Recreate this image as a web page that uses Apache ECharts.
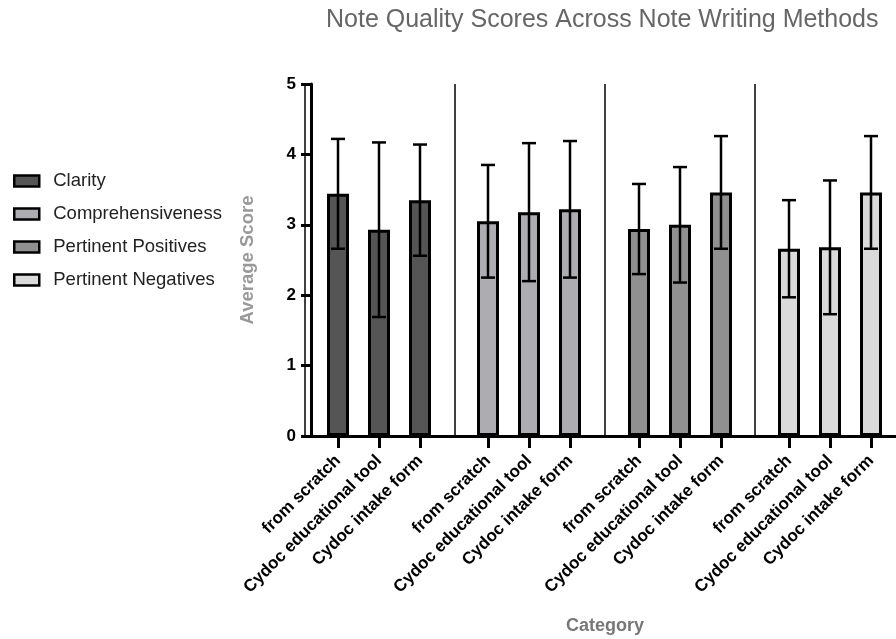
<!DOCTYPE html>
<html>
<head>
<meta charset="utf-8">
<script src="https://cdn.jsdelivr.net/npm/echarts@6/dist/echarts.min.js"></script>
<style>html,body{margin:0;padding:0;background:#fff}#c{width:896px;height:639px}</style>
</head>
<body>
<div id="c"></div>
<script>
// ---- data ----
var methods = ['from scratch', 'Cydoc educational tool', 'Cydoc intake form'];
var criteria = ['Clarity', 'Comprehensiveness', 'Pertinent Positives', 'Pertinent Negatives'];
var clarityMeans = [3.44, 2.93, 3.35];
var clarityErrors = [0.78, 1.24, 0.79];
var comprehensivenessMeans = [3.05, 3.18, 3.22];
var comprehensivenessErrors = [0.80, 0.98, 0.97];
var positivesMeans = [2.94, 3.00, 3.46];
var positivesErrors = [0.64, 0.82, 0.80];
var negativesMeans = [2.66, 2.68, 3.46];
var negativesErrors = [0.69, 0.95, 0.80];
var yTicks = [0, 1, 2, 3, 4, 5];

var means = [clarityMeans, comprehensivenessMeans, positivesMeans, negativesMeans];
var errors = [clarityErrors, comprehensivenessErrors, positivesErrors, negativesErrors];
var colors = ['#555555', '#acacb1', '#909090', '#dadada'];

var FONT = 'Liberation Sans, Arial, Helvetica, sans-serif';
var TOP = 84, H = 352;
var groupLefts = [317.5, 467.5, 618.5, 768.5];
var GW = 123;

var grids = [{left: 305, top: TOP, width: 600, height: H, outerBoundsMode: 'none', containLabel: false}];
groupLefts.forEach(function (l) {
  grids.push({left: l, top: TOP, width: GW, height: H, outerBoundsMode: 'none', containLabel: false});
});

var xAxes = [
  {gridIndex: 0, type: 'value', min: 0, max: 4, interval: 1, position: 'top',
   axisLine: {show: true, lineStyle: {color: '#000', width: 3}},
   axisTick: {show: false}, axisLabel: {show: false},
   splitLine: {show: true, lineStyle: {color: '#000', width: 1.5}}},
  {gridIndex: 0, type: 'value', min: 0, max: 4, interval: 1, position: 'bottom',
   axisLine: {show: true, lineStyle: {color: '#000', width: 3}},
   axisTick: {show: false}, axisLabel: {show: false}, splitLine: {show: false},
   name: 'Category', nameLocation: 'middle', nameGap: 181,
   nameTextStyle: {fontFamily: FONT, fontSize: 18, fontWeight: 'bold', color: '#777'}}
];
var yAxes = [{gridIndex: 0, type: 'value', min: 0, max: 5, show: false}];
for (var g = 0; g < 4; g++) {
  xAxes.push({gridIndex: g + 1, type: 'category', data: methods,
    axisLine: {show: false},
    axisTick: {show: true, alignWithLabel: true, length: 12, lineStyle: {color: '#000', width: 3}},
    axisLabel: {rotate: 45, interval: 0, margin: 22, color: '#000', fontFamily: FONT,
      fontSize: 17, fontWeight: 'bold'},
    splitLine: {show: false}});
  if (g === 0) {
    yAxes.push({gridIndex: 1, type: 'value', min: yTicks[0], max: yTicks[yTicks.length - 1], interval: 1,
      offset: 6.5,
      axisLine: {show: true, lineStyle: {color: '#000', width: 3}},
      axisTick: {show: true, length: 10, lineStyle: {color: '#000', width: 3}},
      axisLabel: {color: '#000', fontFamily: FONT, fontSize: 17, fontWeight: 'bold', margin: 15},
      splitLine: {show: false},
      name: 'Average Score', nameLocation: 'middle', nameRotate: 90, nameGap: 54,
      nameTextStyle: {fontFamily: FONT, fontSize: 18.5, fontWeight: 'bold', color: '#999'}});
  } else {
    yAxes.push({gridIndex: g + 1, type: 'value', min: 0, max: 5, show: false});
  }
}

var series = [];
criteria.forEach(function (name, g) {
  series.push({
    name: name, type: 'bar', xAxisIndex: g + 2, yAxisIndex: g + 1,
    data: means[g], barWidth: 22, z: 2,
    itemStyle: {color: colors[g], borderColor: '#000', borderWidth: 3}
  });
  series.push({
    name: name + ' error', type: 'custom', xAxisIndex: g + 2, yAxisIndex: g + 1, z: 5,
    data: means[g].map(function (m, i) { return [i, m, errors[g][i]]; }),
    encode: {x: 0, y: 1},
    renderItem: function (params, api) {
      var i = api.value(0), m = api.value(1), e = api.value(2);
      var hi = api.coord([i, m + e]);
      var lo = api.coord([i, m - e]);
      var cw = 7;
      var st = {stroke: '#000', lineWidth: 2.5};
      return {type: 'group', children: [
        {type: 'line', shape: {x1: hi[0], y1: hi[1], x2: lo[0], y2: lo[1]}, style: st},
        {type: 'line', shape: {x1: hi[0] - cw, y1: hi[1], x2: hi[0] + cw, y2: hi[1]}, style: st},
        {type: 'line', shape: {x1: lo[0] - cw, y1: lo[1], x2: lo[0] + cw, y2: lo[1]}, style: st}
      ]};
    }
  });
});

var chart = echarts.init(document.getElementById('c'));
chart.setOption({
  backgroundColor: '#fff',
  animation: false,
  title: {text: 'Note Quality Scores Across Note Writing Methods', left: 321, top: 3,
    textStyle: {fontFamily: FONT, fontSize: 25, fontWeight: 'normal', color: '#666'}},
  legend: {data: criteria, orient: 'vertical', left: 8, top: 166, icon: 'rect',
    itemWidth: 25, itemHeight: 11, itemGap: 13,
    itemStyle: {borderColor: '#000', borderWidth: 2.5},
    textStyle: {fontFamily: FONT, fontSize: 18.5, color: '#222', padding: [0, 0, 0, 9], lineHeight: 20}},
  grid: grids,
  xAxis: xAxes,
  yAxis: yAxes,
  series: series
});
</script>
</body>
</html>
